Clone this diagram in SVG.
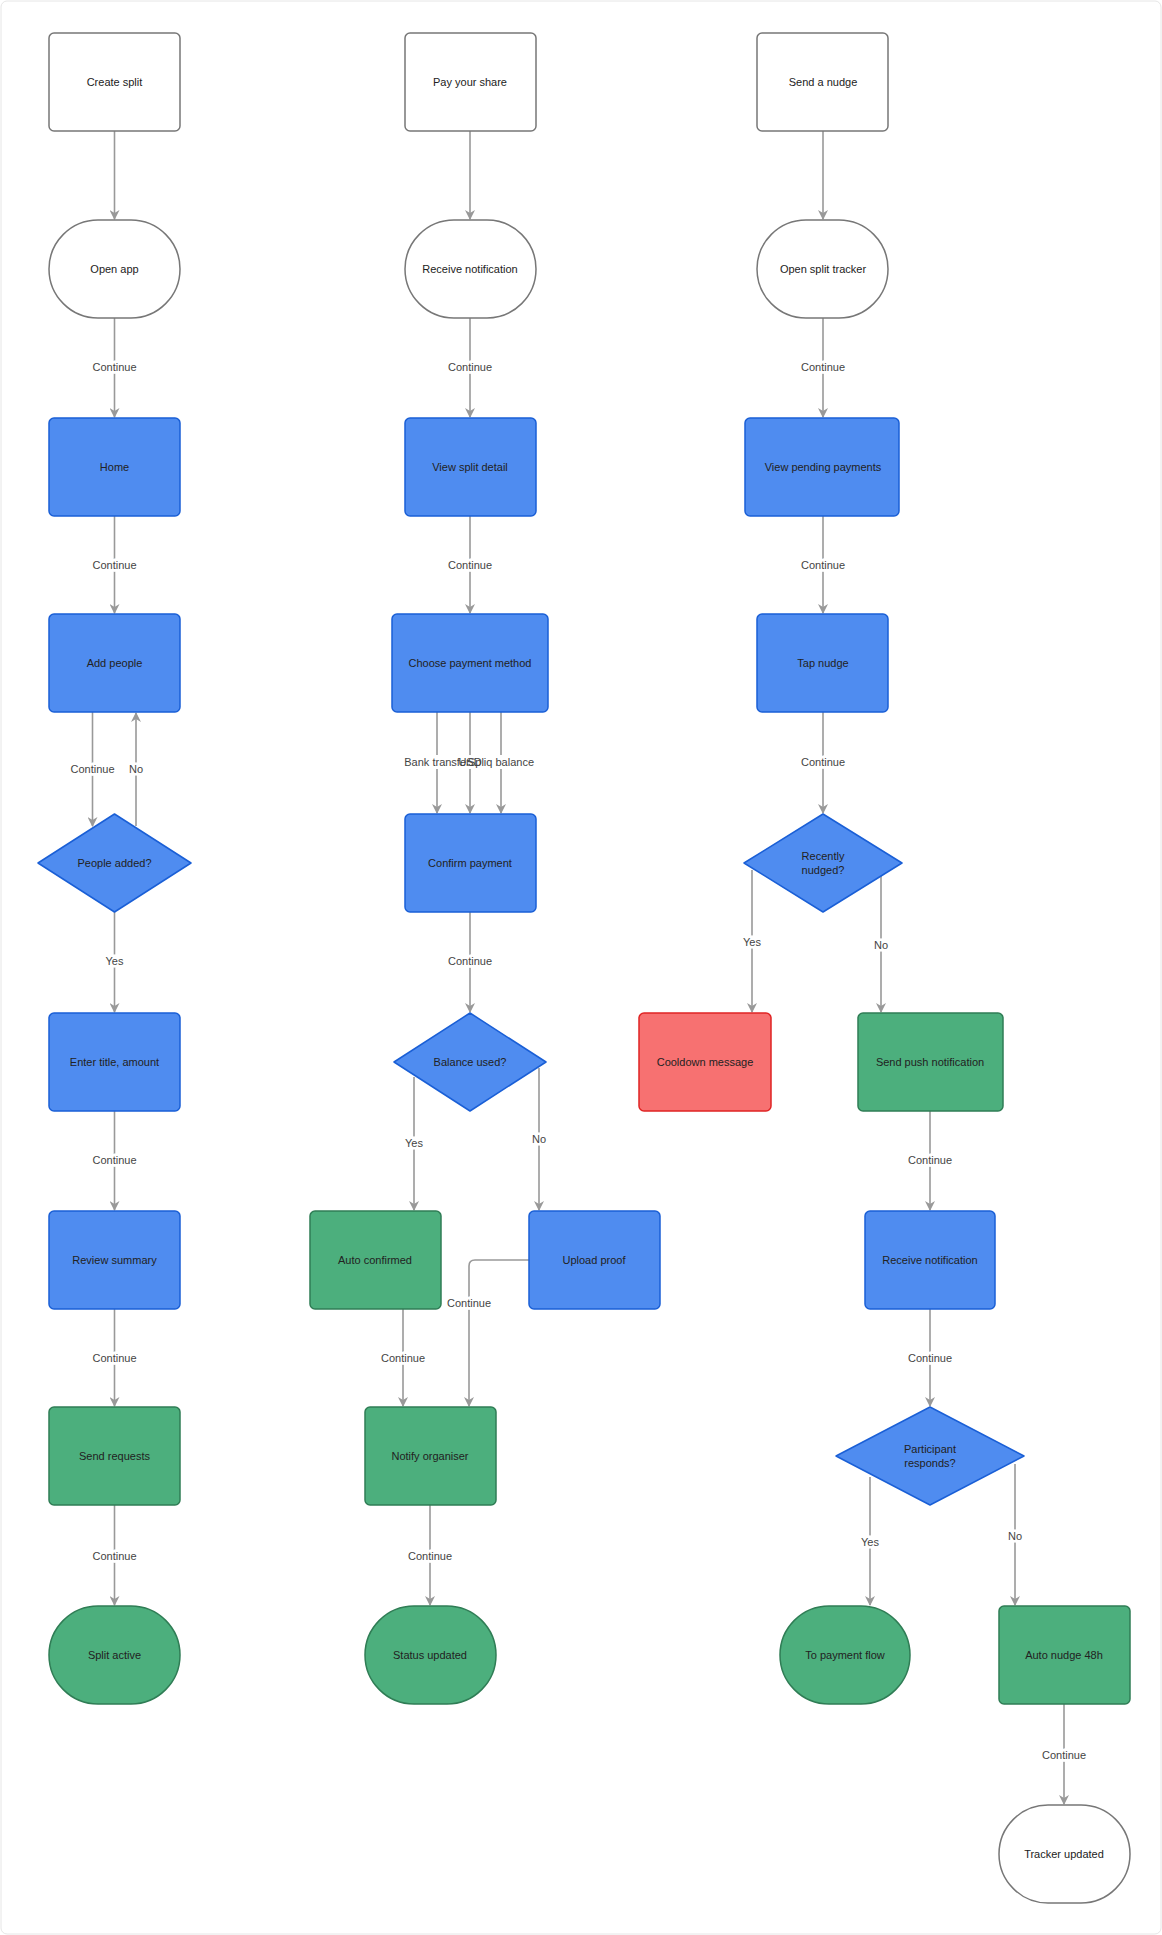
<svg xmlns="http://www.w3.org/2000/svg" width="1162" height="1935" viewBox="0 0 1162 1935">
<style>
text{font-family:"Liberation Sans",Arial,sans-serif;font-size:11px;text-anchor:middle;dominant-baseline:central}
.w{fill:#fff;stroke:#777;stroke-width:1.5}
.b{fill:#4f8cf0;stroke:#1a5fd6;stroke-width:1.5}
.g{fill:#4caf7d;stroke:#2f7d55;stroke-width:1.5}
.r{fill:#f77171;stroke:#e02424;stroke-width:1.5}
.t{fill:#222}
.c{fill:none;stroke:#999;stroke-width:1.6;marker-end:url(#a)}
.l{fill:#444;stroke:#fff;stroke-width:5;paint-order:stroke}
.m{fill:#444}
</style>
<defs><marker id="a" viewBox="0 0 10 10" refX="9" refY="5" markerWidth="10" markerHeight="10" orient="auto" markerUnits="userSpaceOnUse"><path d="M0,0 L10,5 L0,10 L3,5 z" fill="#999"/></marker></defs>
<rect x="1" y="1" width="1160" height="1933" rx="6" fill="#fff" stroke="#e6e6e6"/>
<g id="connectors">
<path class="c" d="M114.5,131 V219"/>
<path class="c" d="M114.5,318 V417"/><text class="l" x="114.5" y="367">Continue</text>
<path class="c" d="M114.5,516 V613"/><text class="l" x="114.5" y="565">Continue</text>
<path class="c" d="M92.5,712 V826"/><text class="l" x="92.5" y="769">Continue</text>
<path class="c" d="M136,826 V713"/><text class="l" x="136" y="769">No</text>
<path class="c" d="M114.5,911 V1012"/><text class="l" x="114.5" y="961">Yes</text>
<path class="c" d="M114.5,1111 V1210"/><text class="l" x="114.5" y="1160">Continue</text>
<path class="c" d="M114.5,1309 V1406"/><text class="l" x="114.5" y="1358">Continue</text>
<path class="c" d="M114.5,1505 V1605"/><text class="l" x="114.5" y="1556">Continue</text>
<path class="c" d="M470,131 V219"/>
<path class="c" d="M470,318 V417"/><text class="l" x="470" y="367">Continue</text>
<path class="c" d="M470,516 V613"/><text class="l" x="470" y="565">Continue</text>
<path class="c" d="M437,712 V813"/><path class="c" d="M470,712 V813"/><path class="c" d="M501,712 V813"/>
<rect x="400" y="755" width="140" height="14" fill="#fff"/>
<text class="m" x="437" y="762">Bank transfer</text><text class="m" x="470" y="762">USD</text><text class="m" x="501" y="762">Spliq balance</text>
<path class="c" d="M470,911 V1012"/><text class="l" x="470" y="961">Continue</text>
<path class="c" d="M414,1077 V1210"/><text class="l" x="414" y="1143">Yes</text>
<path class="c" d="M539,1068 V1210"/><text class="l" x="539" y="1139">No</text>
<path class="c" d="M403,1309 V1406"/><text class="l" x="403" y="1358">Continue</text>
<path class="c" d="M529,1260 H475 Q469,1260 469,1266 V1406"/><text class="l" x="469" y="1303">Continue</text>
<path class="c" d="M430,1505 V1605"/><text class="l" x="430" y="1556">Continue</text>
<path class="c" d="M823,131 V219"/>
<path class="c" d="M823,318 V417"/><text class="l" x="823" y="367">Continue</text>
<path class="c" d="M823,516 V613"/><text class="l" x="823" y="565">Continue</text>
<path class="c" d="M823,712 V813"/><text class="l" x="823" y="762">Continue</text>
<path class="c" d="M752,870 V1012"/><text class="l" x="752" y="942">Yes</text>
<path class="c" d="M881,876 V1012"/><text class="l" x="881" y="945">No</text>
<path class="c" d="M930,1111 V1210"/><text class="l" x="930" y="1160">Continue</text>
<path class="c" d="M930,1309 V1406"/><text class="l" x="930" y="1358">Continue</text>
<path class="c" d="M870,1477 V1605"/><text class="l" x="870" y="1542">Yes</text>
<path class="c" d="M1015,1464 V1605"/><text class="l" x="1015" y="1536">No</text>
<path class="c" d="M1064,1704 V1804"/><text class="l" x="1064" y="1755">Continue</text>
</g>
<g id="create-split"><rect class="w" x="49" y="33" width="131" height="98" rx="5"/><text class="t" x="114.5" y="82">Create split</text></g>
<g id="open-app"><rect class="w" x="49" y="220" width="131" height="98" rx="49"/><text class="t" x="114.5" y="269">Open app</text></g>
<g id="home"><rect class="b" x="49" y="418" width="131" height="98" rx="5"/><text class="t" x="114.5" y="467">Home</text></g>
<g id="add-people"><rect class="b" x="49" y="614" width="131" height="98" rx="5"/><text class="t" x="114.5" y="663">Add people</text></g>
<g id="people-added"><path class="b" d="M114.5,814 L191,863 L114.5,912 L38,863 Z" stroke-linejoin="round"/><text class="t" x="114.5" y="863">People added?</text></g>
<g id="enter-title"><rect class="b" x="49" y="1013" width="131" height="98" rx="5"/><text class="t" x="114.5" y="1062">Enter title, amount</text></g>
<g id="review-summary"><rect class="b" x="49" y="1211" width="131" height="98" rx="5"/><text class="t" x="114.5" y="1260">Review summary</text></g>
<g id="send-requests"><rect class="g" x="49" y="1407" width="131" height="98" rx="5"/><text class="t" x="114.5" y="1456">Send requests</text></g>
<g id="split-active"><rect class="g" x="49" y="1606" width="131" height="98" rx="49"/><text class="t" x="114.5" y="1655">Split active</text></g>
<g id="pay-share"><rect class="w" x="405" y="33" width="131" height="98" rx="5"/><text class="t" x="470" y="82">Pay your share</text></g>
<g id="receive-notification-1"><rect class="w" x="405" y="220" width="131" height="98" rx="49"/><text class="t" x="470" y="269">Receive notification</text></g>
<g id="view-split"><rect class="b" x="405" y="418" width="131" height="98" rx="5"/><text class="t" x="470" y="467">View split detail</text></g>
<g id="choose-method"><rect class="b" x="392" y="614" width="156" height="98" rx="5"/><text class="t" x="470" y="663">Choose payment method</text></g>
<g id="confirm-payment"><rect class="b" x="405" y="814" width="131" height="98" rx="5"/><text class="t" x="470" y="863">Confirm payment</text></g>
<g id="balance-used"><path class="b" d="M470,1013 L546,1062 L470,1111 L394,1062 Z" stroke-linejoin="round"/><text class="t" x="470" y="1062">Balance used?</text></g>
<g id="auto-confirmed"><rect class="g" x="310" y="1211" width="131" height="98" rx="5"/><text class="t" x="375" y="1260">Auto confirmed</text></g>
<g id="upload-proof"><rect class="b" x="529" y="1211" width="131" height="98" rx="5"/><text class="t" x="594" y="1260">Upload proof</text></g>
<g id="notify-organiser"><rect class="g" x="365" y="1407" width="131" height="98" rx="5"/><text class="t" x="430" y="1456">Notify organiser</text></g>
<g id="status-updated"><rect class="g" x="365" y="1606" width="131" height="98" rx="49"/><text class="t" x="430" y="1655">Status updated</text></g>
<g id="send-nudge"><rect class="w" x="757" y="33" width="131" height="98" rx="5"/><text class="t" x="823" y="82">Send a nudge</text></g>
<g id="open-tracker"><rect class="w" x="757" y="220" width="131" height="98" rx="49"/><text class="t" x="823" y="269">Open split tracker</text></g>
<g id="view-pending"><rect class="b" x="745" y="418" width="154" height="98" rx="5"/><text class="t" x="823" y="467">View pending payments</text></g>
<g id="tap-nudge"><rect class="b" x="757" y="614" width="131" height="98" rx="5"/><text class="t" x="823" y="663">Tap nudge</text></g>
<g id="recently-nudged"><path class="b" d="M823,814 L902,863 L823,912 L744,863 Z" stroke-linejoin="round"/><text class="t" x="823" y="856">Recently</text><text class="t" x="823" y="870">nudged?</text></g>
<g id="cooldown"><rect class="r" x="639" y="1013" width="132" height="98" rx="5"/><text class="t" x="705" y="1062">Cooldown message</text></g>
<g id="send-push"><rect class="g" x="858" y="1013" width="145" height="98" rx="5"/><text class="t" x="930" y="1062">Send push notification</text></g>
<g id="receive-notification-2"><rect class="b" x="865" y="1211" width="130" height="98" rx="5"/><text class="t" x="930" y="1260">Receive notification</text></g>
<g id="participant-responds"><path class="b" d="M930,1407 L1024,1456 L930,1505 L836,1456 Z" stroke-linejoin="round"/><text class="t" x="930" y="1449">Participant</text><text class="t" x="930" y="1463">responds?</text></g>
<g id="to-payment"><rect class="g" x="780" y="1606" width="130" height="98" rx="49"/><text class="t" x="845" y="1655">To payment flow</text></g>
<g id="auto-nudge"><rect class="g" x="999" y="1606" width="131" height="98" rx="5"/><text class="t" x="1064" y="1655">Auto nudge 48h</text></g>
<g id="tracker-updated"><rect class="w" x="999" y="1805" width="131" height="98" rx="49"/><text class="t" x="1064" y="1854">Tracker updated</text></g>
</svg>
